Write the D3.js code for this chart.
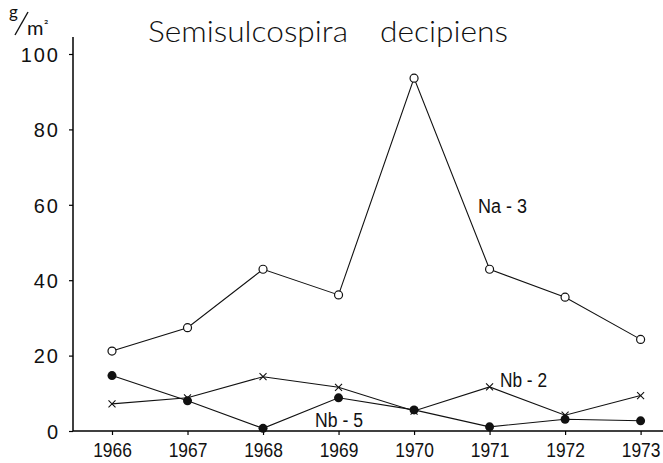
<!DOCTYPE html>
<html><head><meta charset="utf-8">
<script src="https://cdn.jsdelivr.net/npm/d3@7"></script>
<style>
body{margin:0;background:#fff;}
svg{display:block;}
</style></head>
<body>
<svg id="chart" width="663" height="463"></svg>
<script>
const years = [1966, 1967, 1968, 1969, 1970, 1971, 1972, 1973];
const na3 = [21.2, 27.4, 42.9, 36.1, 93.6, 42.9, 35.5, 24.3];
const nb2 = [7.2, 8.8, 14.4, 11.6, 5.3, 11.7, 4.2, 9.4];
const nb5 = [14.7, 8.0, 0.7, 8.8, 5.6, 1.1, 3.1, 2.7];
const yTicks = [0, 20, 40, 60, 80, 100];
const titleParts = ["Semisulcospira", "decipiens"];
const seriesLabels = ["Na - 3", "Nb - 2", "Nb - 5"];

const svg = d3.select("#chart");
const x = d3.scaleLinear().domain([1966, 1973]).range([112, 640.6]);
const y = d3.scaleLinear().domain([0, 100]).range([431, 54]);
const axisX = 73;
const numFont = "'Liberation Sans',Arimo,'DejaVu Sans',sans-serif";

// axes lines
svg.append("line").attr("x1", axisX).attr("x2", axisX)
  .attr("y1", y(0)).attr("y2", y(104.5))
  .attr("stroke", "#000").attr("stroke-width", 1.5);
svg.append("line").attr("x1", axisX).attr("x2", x(1973.72))
  .attr("y1", y(0)).attr("y2", y(0))
  .attr("stroke", "#000").attr("stroke-width", 1.5);

// y axis
const yAxis = d3.axisLeft(y).tickValues(yTicks).tickSize(4).tickPadding(9).tickFormat(d3.format("d"));
const gy = svg.append("g").attr("transform", `translate(${axisX},0)`).call(yAxis);
gy.select(".domain").remove();
gy.selectAll(".tick line").attr("stroke", "#000").attr("stroke-width", 1.2);
gy.selectAll(".tick text").attr("font-family", numFont).attr("font-size", 20)
  .attr("fill", "#111").attr("letter-spacing", "2px").attr("dy", "0.36em");

// x axis
const xAxis = d3.axisBottom(x).tickValues(years).tickSize(4).tickPadding(0).tickFormat(d3.format("d"));
const gx = svg.append("g").attr("transform", `translate(0,${y(0)})`).call(xAxis);
gx.select(".domain").remove();
gx.selectAll(".tick line").attr("stroke", "#000").attr("stroke-width", 1.2);
gx.selectAll(".tick text").attr("font-family", numFont).attr("font-size", 20)
  .attr("fill", "#111").attr("y", 26).attr("dy", null)
  .attr("transform", "scale(0.87,1)");

// lines
const line = d3.line().x((d, i) => x(years[i])).y(d => y(d));
[na3, nb2, nb5].forEach(s => {
  svg.append("path").datum(s).attr("d", line)
    .attr("fill", "none").attr("stroke", "#111").attr("stroke-width", 1.1);
});

// Nb-2 x markers
const xm = svg.append("g");
nb2.forEach((v, i) => {
  const cx = x(years[i]), cy = y(v), s = 3.5;
  xm.append("path").attr("d", `M${cx - s},${cy - s}L${cx + s},${cy + s}M${cx - s},${cy + s}L${cx + s},${cy - s}`)
    .attr("stroke", "#111").attr("stroke-width", 1.1).attr("fill", "none");
});
// Nb-5 filled
svg.append("g").selectAll("circle").data(nb5).join("circle")
  .attr("cx", (d, i) => x(years[i])).attr("cy", d => y(d)).attr("r", 4.5).attr("fill", "#111");
// Na-3 open
svg.append("g").selectAll("circle").data(na3).join("circle")
  .attr("cx", (d, i) => x(years[i])).attr("cy", d => y(d)).attr("r", 4)
  .attr("fill", "#fff").attr("stroke", "#111").attr("stroke-width", 1.2);

// title
const titleFont = "Lato,'Open Sans','DejaVu Sans',sans-serif";
svg.append("text").attr("x", 148).attr("y", 42).text(titleParts[0])
  .attr("font-family", titleFont).attr("font-weight", 300).attr("font-size", 30)
  .attr("textLength", 200).attr("lengthAdjust", "spacingAndGlyphs").attr("fill", "#111");
svg.append("text").attr("x", 380).attr("y", 42).text(titleParts[1])
  .attr("font-family", titleFont).attr("font-weight", 300).attr("font-size", 30)
  .attr("textLength", 128).attr("lengthAdjust", "spacingAndGlyphs").attr("fill", "#111");

// unit label g/m²
svg.append("text").attr("x", 9).attr("y", 18).text("g")
  .attr("font-family", titleFont).attr("font-size", 17).attr("fill", "#111");
svg.append("line").attr("x1", 15).attr("y1", 35).attr("x2", 28).attr("y2", 12)
  .attr("stroke", "#111").attr("stroke-width", 1.4);
svg.append("text").attr("x", 27).attr("y", 35).text("m")
  .attr("font-family", titleFont).attr("font-size", 20).attr("fill", "#111");
svg.append("text").attr("x", 44).attr("y", 30).text("²")
  .attr("font-family", titleFont).attr("font-size", 13).attr("fill", "#111");

// series labels
const labFont = "'Liberation Sans','DejaVu Sans',sans-serif";
const labPos = [[478, 213, 49], [500, 387, 47], [315, 427, 48]];
seriesLabels.forEach((t, i) => {
  svg.append("text").attr("x", labPos[i][0]).attr("y", labPos[i][1]).text(t)
    .attr("font-family", labFont).attr("font-size", 20).attr("fill", "#111")
    .attr("textLength", labPos[i][2]).attr("lengthAdjust", "spacingAndGlyphs");
});
</script>
</body></html>
